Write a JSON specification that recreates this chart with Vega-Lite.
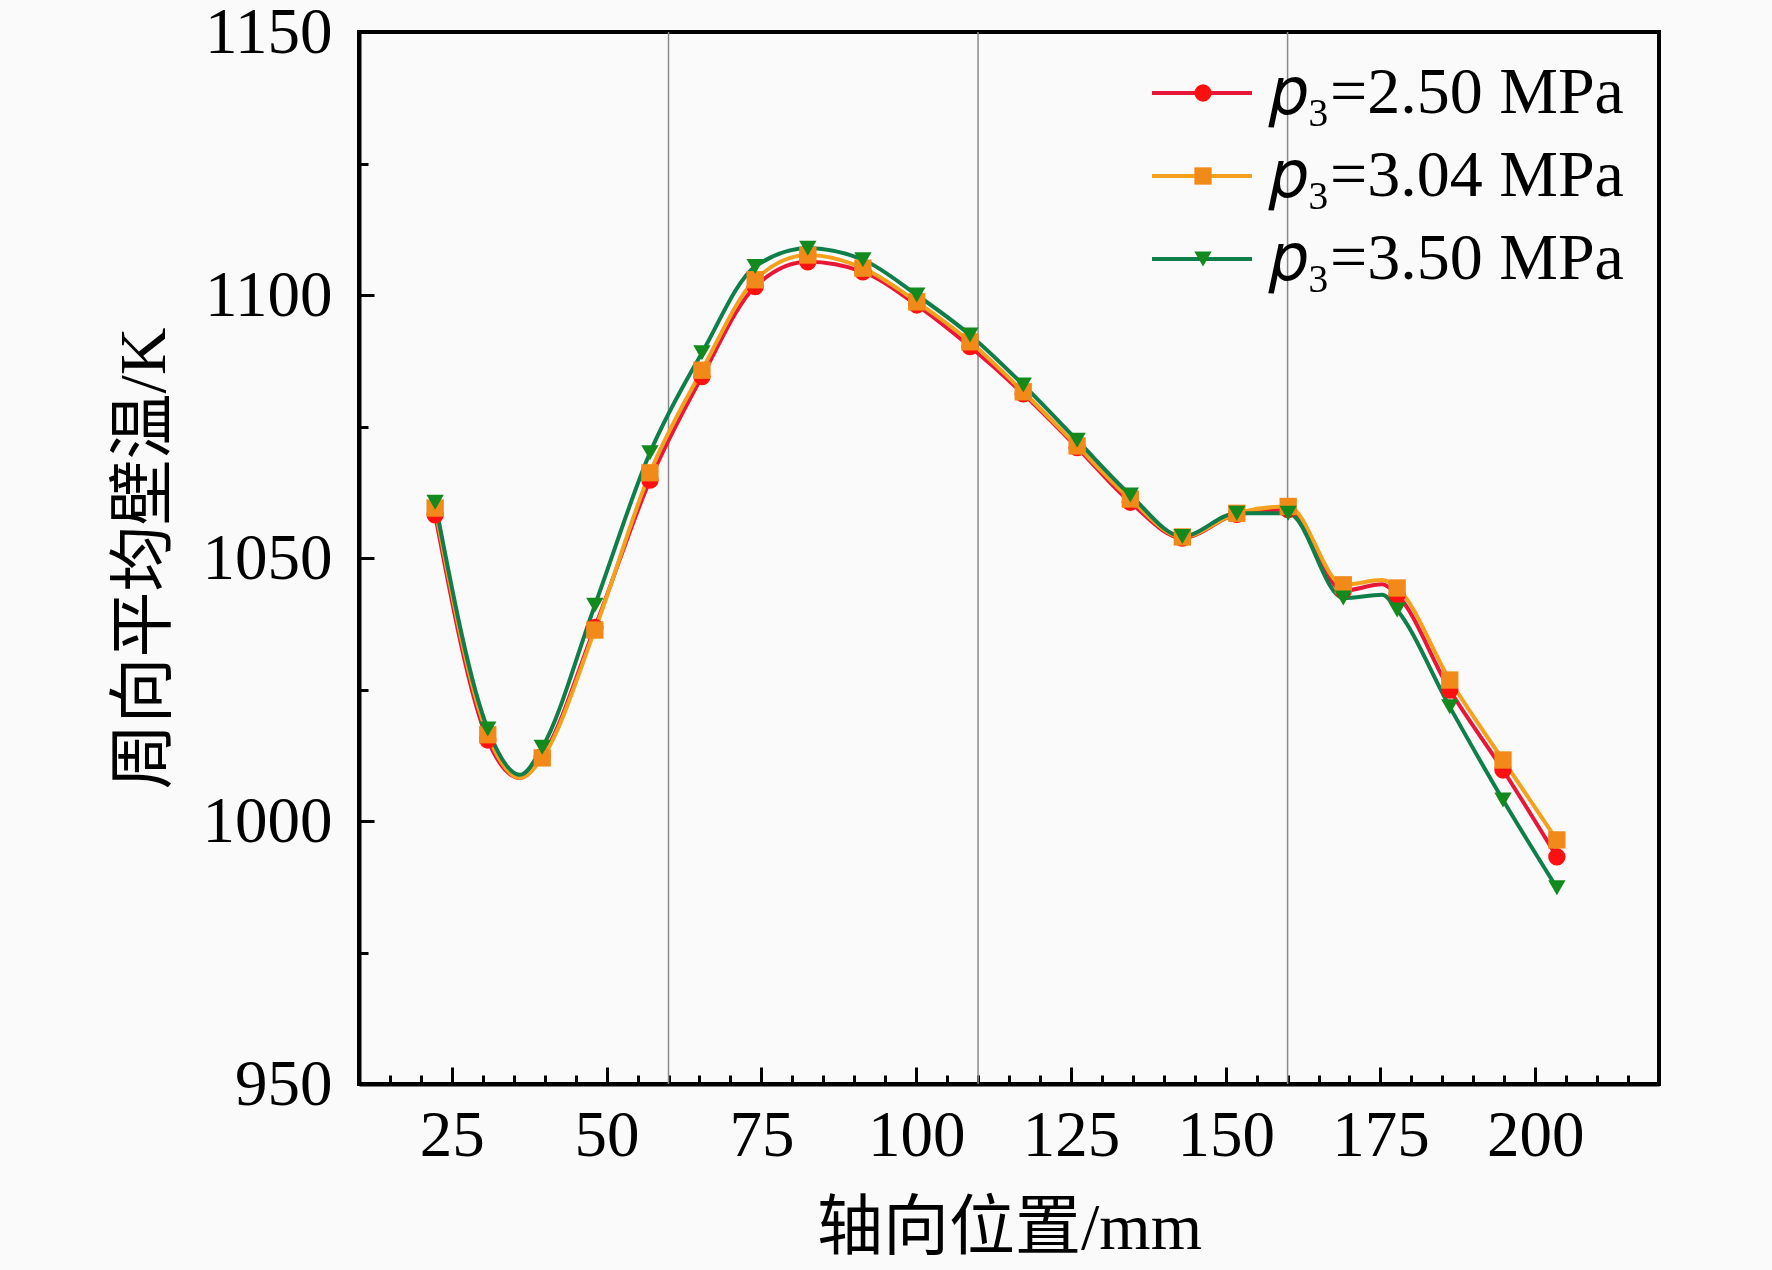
{
  "$schema": "https://vega.github.io/schema/vega-lite/v6.json",
  "width": 1300,
  "height": 1052,
  "autosize": {"type": "none"},
  "padding": {"left": 359, "top": 32, "right": 113, "bottom": 186},
  "background": "#fafafa",
  "config": {
    "font": "Liberation Serif",
    "view": {"stroke": "black", "strokeWidth": 4}
  },
  "datasets": {
    "grid": [{"x": 60}, {"x": 110}, {"x": 160}],
    "markers": [
      {"x": 22.3, "T": 1058.2, "p": "𝑝₃=2.50 MPa"},
      {"x": 30.8, "T": 1015.4, "p": "𝑝₃=2.50 MPa"},
      {"x": 39.6, "T": 1012.3, "p": "𝑝₃=2.50 MPa"},
      {"x": 48.1, "T": 1036.8, "p": "𝑝₃=2.50 MPa"},
      {"x": 57.0, "T": 1064.8, "p": "𝑝₃=2.50 MPa"},
      {"x": 65.4, "T": 1084.5, "p": "𝑝₃=2.50 MPa"},
      {"x": 74.0, "T": 1101.6, "p": "𝑝₃=2.50 MPa"},
      {"x": 82.5, "T": 1106.3, "p": "𝑝₃=2.50 MPa"},
      {"x": 91.4, "T": 1104.4, "p": "𝑝₃=2.50 MPa"},
      {"x": 100.1, "T": 1098.1, "p": "𝑝₃=2.50 MPa"},
      {"x": 108.7, "T": 1090.2, "p": "𝑝₃=2.50 MPa"},
      {"x": 117.3, "T": 1081.2, "p": "𝑝₃=2.50 MPa"},
      {"x": 126.0, "T": 1071.0, "p": "𝑝₃=2.50 MPa"},
      {"x": 134.6, "T": 1060.6, "p": "𝑝₃=2.50 MPa"},
      {"x": 143.0, "T": 1053.8, "p": "𝑝₃=2.50 MPa"},
      {"x": 151.8, "T": 1058.3, "p": "𝑝₃=2.50 MPa"},
      {"x": 160.1, "T": 1059.2, "p": "𝑝₃=2.50 MPa"},
      {"x": 169.0, "T": 1043.8, "p": "𝑝₃=2.50 MPa"},
      {"x": 177.7, "T": 1043.0, "p": "𝑝₃=2.50 MPa"},
      {"x": 186.2, "T": 1024.9, "p": "𝑝₃=2.50 MPa"},
      {"x": 194.8, "T": 1009.7, "p": "𝑝₃=2.50 MPa"},
      {"x": 203.5, "T": 993.2, "p": "𝑝₃=2.50 MPa"},
      {"x": 22.3, "T": 1059.5, "p": "𝑝₃=3.04 MPa"},
      {"x": 30.8, "T": 1016.4, "p": "𝑝₃=3.04 MPa"},
      {"x": 39.6, "T": 1012.0, "p": "𝑝₃=3.04 MPa"},
      {"x": 48.1, "T": 1036.3, "p": "𝑝₃=3.04 MPa"},
      {"x": 57.0, "T": 1066.2, "p": "𝑝₃=3.04 MPa"},
      {"x": 65.4, "T": 1085.7, "p": "𝑝₃=3.04 MPa"},
      {"x": 74.0, "T": 1102.9, "p": "𝑝₃=3.04 MPa"},
      {"x": 82.5, "T": 1107.6, "p": "𝑝₃=3.04 MPa"},
      {"x": 91.4, "T": 1105.1, "p": "𝑝₃=3.04 MPa"},
      {"x": 100.1, "T": 1098.7, "p": "𝑝₃=3.04 MPa"},
      {"x": 108.7, "T": 1091.1, "p": "𝑝₃=3.04 MPa"},
      {"x": 117.3, "T": 1081.6, "p": "𝑝₃=3.04 MPa"},
      {"x": 126.0, "T": 1071.3, "p": "𝑝₃=3.04 MPa"},
      {"x": 134.6, "T": 1061.2, "p": "𝑝₃=3.04 MPa"},
      {"x": 143.0, "T": 1054.0, "p": "𝑝₃=3.04 MPa"},
      {"x": 151.8, "T": 1058.5, "p": "𝑝₃=3.04 MPa"},
      {"x": 160.1, "T": 1059.8, "p": "𝑝₃=3.04 MPa"},
      {"x": 169.0, "T": 1044.9, "p": "𝑝₃=3.04 MPa"},
      {"x": 177.7, "T": 1044.3, "p": "𝑝₃=3.04 MPa"},
      {"x": 186.2, "T": 1026.8, "p": "𝑝₃=3.04 MPa"},
      {"x": 194.8, "T": 1011.6, "p": "𝑝₃=3.04 MPa"},
      {"x": 203.5, "T": 996.4, "p": "𝑝₃=3.04 MPa"},
      {"x": 22.3, "T": 1060.6, "p": "𝑝₃=3.50 MPa"},
      {"x": 30.8, "T": 1017.5, "p": "𝑝₃=3.50 MPa"},
      {"x": 39.6, "T": 1014.0, "p": "𝑝₃=3.50 MPa"},
      {"x": 48.1, "T": 1041.0, "p": "𝑝₃=3.50 MPa"},
      {"x": 57.0, "T": 1070.0, "p": "𝑝₃=3.50 MPa"},
      {"x": 65.4, "T": 1089.0, "p": "𝑝₃=3.50 MPa"},
      {"x": 74.0, "T": 1105.4, "p": "𝑝₃=3.50 MPa"},
      {"x": 82.5, "T": 1108.9, "p": "𝑝₃=3.50 MPa"},
      {"x": 91.4, "T": 1106.7, "p": "𝑝₃=3.50 MPa"},
      {"x": 100.1, "T": 1100.0, "p": "𝑝₃=3.50 MPa"},
      {"x": 108.7, "T": 1092.4, "p": "𝑝₃=3.50 MPa"},
      {"x": 117.3, "T": 1082.9, "p": "𝑝₃=3.50 MPa"},
      {"x": 126.0, "T": 1072.4, "p": "𝑝₃=3.50 MPa"},
      {"x": 134.6, "T": 1062.0, "p": "𝑝₃=3.50 MPa"},
      {"x": 143.0, "T": 1054.1, "p": "𝑝₃=3.50 MPa"},
      {"x": 151.8, "T": 1058.5, "p": "𝑝₃=3.50 MPa"},
      {"x": 160.1, "T": 1058.5, "p": "𝑝₃=3.50 MPa"},
      {"x": 169.0, "T": 1042.4, "p": "𝑝₃=3.50 MPa"},
      {"x": 177.7, "T": 1040.1, "p": "𝑝₃=3.50 MPa"},
      {"x": 186.2, "T": 1021.7, "p": "𝑝₃=3.50 MPa"},
      {"x": 194.8, "T": 1004.0, "p": "𝑝₃=3.50 MPa"},
      {"x": 203.5, "T": 987.3, "p": "𝑝₃=3.50 MPa"}
    ],
    "curve": [
      {"x": 22.3, "T": 1058.2, "p": "𝑝₃=2.50 MPa"},
      {"x": 30.8, "T": 1015.4, "p": "𝑝₃=2.50 MPa"},
      {"x": 36.0, "T": 1008.2, "p": "𝑝₃=2.50 MPa"},
      {"x": 39.6, "T": 1012.3, "p": "𝑝₃=2.50 MPa"},
      {"x": 48.1, "T": 1036.8, "p": "𝑝₃=2.50 MPa"},
      {"x": 57.0, "T": 1064.8, "p": "𝑝₃=2.50 MPa"},
      {"x": 65.4, "T": 1084.5, "p": "𝑝₃=2.50 MPa"},
      {"x": 74.0, "T": 1101.6, "p": "𝑝₃=2.50 MPa"},
      {"x": 82.5, "T": 1106.3, "p": "𝑝₃=2.50 MPa"},
      {"x": 91.4, "T": 1104.4, "p": "𝑝₃=2.50 MPa"},
      {"x": 100.1, "T": 1098.1, "p": "𝑝₃=2.50 MPa"},
      {"x": 108.7, "T": 1090.2, "p": "𝑝₃=2.50 MPa"},
      {"x": 117.3, "T": 1081.2, "p": "𝑝₃=2.50 MPa"},
      {"x": 126.0, "T": 1071.0, "p": "𝑝₃=2.50 MPa"},
      {"x": 134.6, "T": 1060.6, "p": "𝑝₃=2.50 MPa"},
      {"x": 143.0, "T": 1053.8, "p": "𝑝₃=2.50 MPa"},
      {"x": 151.8, "T": 1058.3, "p": "𝑝₃=2.50 MPa"},
      {"x": 160.1, "T": 1059.2, "p": "𝑝₃=2.50 MPa"},
      {"x": 169.0, "T": 1043.8, "p": "𝑝₃=2.50 MPa"},
      {"x": 175.3, "T": 1045.0, "p": "𝑝₃=2.50 MPa"},
      {"x": 177.7, "T": 1043.0, "p": "𝑝₃=2.50 MPa"},
      {"x": 186.2, "T": 1024.9, "p": "𝑝₃=2.50 MPa"},
      {"x": 194.8, "T": 1009.7, "p": "𝑝₃=2.50 MPa"},
      {"x": 203.5, "T": 993.2, "p": "𝑝₃=2.50 MPa"},
      {"x": 22.3, "T": 1059.5, "p": "𝑝₃=3.04 MPa"},
      {"x": 30.8, "T": 1016.4, "p": "𝑝₃=3.04 MPa"},
      {"x": 36.0, "T": 1008.2, "p": "𝑝₃=3.04 MPa"},
      {"x": 39.6, "T": 1012.0, "p": "𝑝₃=3.04 MPa"},
      {"x": 48.1, "T": 1036.3, "p": "𝑝₃=3.04 MPa"},
      {"x": 57.0, "T": 1066.2, "p": "𝑝₃=3.04 MPa"},
      {"x": 65.4, "T": 1085.7, "p": "𝑝₃=3.04 MPa"},
      {"x": 74.0, "T": 1102.9, "p": "𝑝₃=3.04 MPa"},
      {"x": 82.5, "T": 1107.6, "p": "𝑝₃=3.04 MPa"},
      {"x": 91.4, "T": 1105.1, "p": "𝑝₃=3.04 MPa"},
      {"x": 100.1, "T": 1098.7, "p": "𝑝₃=3.04 MPa"},
      {"x": 108.7, "T": 1091.1, "p": "𝑝₃=3.04 MPa"},
      {"x": 117.3, "T": 1081.6, "p": "𝑝₃=3.04 MPa"},
      {"x": 126.0, "T": 1071.3, "p": "𝑝₃=3.04 MPa"},
      {"x": 134.6, "T": 1061.2, "p": "𝑝₃=3.04 MPa"},
      {"x": 143.0, "T": 1054.0, "p": "𝑝₃=3.04 MPa"},
      {"x": 151.8, "T": 1058.5, "p": "𝑝₃=3.04 MPa"},
      {"x": 160.1, "T": 1059.8, "p": "𝑝₃=3.04 MPa"},
      {"x": 169.0, "T": 1044.9, "p": "𝑝₃=3.04 MPa"},
      {"x": 175.3, "T": 1045.8, "p": "𝑝₃=3.04 MPa"},
      {"x": 177.7, "T": 1044.3, "p": "𝑝₃=3.04 MPa"},
      {"x": 186.2, "T": 1026.8, "p": "𝑝₃=3.04 MPa"},
      {"x": 194.8, "T": 1011.6, "p": "𝑝₃=3.04 MPa"},
      {"x": 203.5, "T": 996.4, "p": "𝑝₃=3.04 MPa"},
      {"x": 22.3, "T": 1060.6, "p": "𝑝₃=3.50 MPa"},
      {"x": 30.8, "T": 1017.5, "p": "𝑝₃=3.50 MPa"},
      {"x": 36.0, "T": 1008.8, "p": "𝑝₃=3.50 MPa"},
      {"x": 39.6, "T": 1014.0, "p": "𝑝₃=3.50 MPa"},
      {"x": 48.1, "T": 1041.0, "p": "𝑝₃=3.50 MPa"},
      {"x": 57.0, "T": 1070.0, "p": "𝑝₃=3.50 MPa"},
      {"x": 65.4, "T": 1089.0, "p": "𝑝₃=3.50 MPa"},
      {"x": 74.0, "T": 1105.4, "p": "𝑝₃=3.50 MPa"},
      {"x": 82.5, "T": 1108.9, "p": "𝑝₃=3.50 MPa"},
      {"x": 91.4, "T": 1106.7, "p": "𝑝₃=3.50 MPa"},
      {"x": 100.1, "T": 1100.0, "p": "𝑝₃=3.50 MPa"},
      {"x": 108.7, "T": 1092.4, "p": "𝑝₃=3.50 MPa"},
      {"x": 117.3, "T": 1082.9, "p": "𝑝₃=3.50 MPa"},
      {"x": 126.0, "T": 1072.4, "p": "𝑝₃=3.50 MPa"},
      {"x": 134.6, "T": 1062.0, "p": "𝑝₃=3.50 MPa"},
      {"x": 143.0, "T": 1054.1, "p": "𝑝₃=3.50 MPa"},
      {"x": 151.8, "T": 1058.5, "p": "𝑝₃=3.50 MPa"},
      {"x": 160.1, "T": 1058.5, "p": "𝑝₃=3.50 MPa"},
      {"x": 169.0, "T": 1042.4, "p": "𝑝₃=3.50 MPa"},
      {"x": 175.3, "T": 1043.0, "p": "𝑝₃=3.50 MPa"},
      {"x": 177.7, "T": 1040.1, "p": "𝑝₃=3.50 MPa"},
      {"x": 186.2, "T": 1021.7, "p": "𝑝₃=3.50 MPa"},
      {"x": 194.8, "T": 1004.0, "p": "𝑝₃=3.50 MPa"},
      {"x": 203.5, "T": 987.3, "p": "𝑝₃=3.50 MPa"}
    ]
  },
  "layer": [
    {
      "data": {"name": "grid"},
      "mark": {"type": "rule", "color": "#8a8a8a", "strokeWidth": 1.5},
      "encoding": {
        "x": {"field": "x", "type": "quantitative", "axis": null,
              "scale": {"domain": [10, 220], "nice": false, "zero": false}}
      }
    },
    {
      "data": {"name": "curve"},
      "mark": {"type": "line", "interpolate": "monotone", "strokeWidth": 4},
      "encoding": {
        "x": {
          "field": "x", "type": "quantitative",
          "scale": {"domain": [10, 220], "nice": false, "zero": false},
          "axis": {
            "orient": "bottom",
            "values": [25, 50, 75, 100, 125, 150, 175, 200],
            "format": "d",
            "title": "轴向位置/mm",
            "titleFont": "Liberation Serif, Noto Sans CJK SC",
            "titleFontSize": 66, "titleFontWeight": "normal", "titleColor": "black",
            "titlePadding": 28,
            "labelFontSize": 65, "labelColor": "black", "labelPadding": 37,
            "labelOverlap": false, "labelFlush": false,
            "tickSize": -17, "tickWidth": 3, "tickColor": "black",
            "domainColor": "black", "domainWidth": 4, "grid": false
          }
        },
        "y": {
          "field": "T", "type": "quantitative",
          "scale": {"domain": [950, 1150], "nice": false, "zero": false},
          "axis": {
            "orient": "left",
            "values": [950, 1000, 1050, 1100, 1150],
            "format": "d",
            "title": "周向平均壁温/K",
            "titleFont": "Liberation Serif, Noto Sans CJK SC",
            "titleFontSize": 66, "titleFontWeight": "normal", "titleColor": "black",
            "titlePadding": 24,
            "labelFontSize": 65, "labelColor": "black", "labelPadding": 42,
            "labelOverlap": false, "labelFlush": false,
            "tickSize": -15, "tickWidth": 3, "tickColor": "black",
            "domainColor": "black", "domainWidth": 4, "grid": false
          }
        },
        "color": {
          "field": "p", "type": "nominal",
          "scale": {
            "domain": ["𝑝₃=2.50 MPa", "𝑝₃=3.04 MPa", "𝑝₃=3.50 MPa"],
            "range": ["#e8173a", "#f4a11e", "#0e7f4a"]
          },
          "legend": {
            "orient": "none", "legendX": 791, "legendY": 28,
            "title": null, "padding": 0,
            "symbolType": "stroke", "symbolSize": 10000, "symbolStrokeWidth": 4,
            "labelFontSize": 66, "labelColor": "black", "labelOffset": 16,
            "labelLimit": 0, "rowPadding": 17, "clipHeight": 66
          }
        }
      }
    },
    {
      "data": {"name": "markers"},
      "mark": {"type": "point", "filled": true, "opacity": 1, "size": 300},
      "encoding": {
        "x": {
          "field": "x", "type": "quantitative",
          "scale": {"domain": [10, 220], "nice": false, "zero": false},
          "axis": {
            "orient": "bottom",
            "values": [15, 20, 30, 35, 40, 45, 55, 60, 65, 70, 80, 85, 90, 95, 105, 110, 115, 120, 130, 135, 140, 145, 155, 160, 165, 170, 180, 185, 190, 195, 205, 210, 215],
            "title": null, "labels": false, "domain": false, "grid": false,
            "tickSize": -9, "tickWidth": 3, "tickColor": "black"
          }
        },
        "y": {
          "field": "T", "type": "quantitative",
          "scale": {"domain": [950, 1150], "nice": false, "zero": false},
          "axis": {
            "orient": "left",
            "values": [975, 1025, 1075, 1125],
            "title": null, "labels": false, "domain": false, "grid": false,
            "tickSize": -9, "tickWidth": 3, "tickColor": "black"
          }
        },
        "color": {
          "field": "p", "type": "nominal",
          "scale": {
            "domain": ["𝑝₃=2.50 MPa", "𝑝₃=3.04 MPa", "𝑝₃=3.50 MPa"],
            "range": ["#ff1010", "#f28a1a", "#128a1e"]
          },
          "legend": {
            "orient": "none", "legendX": 811, "legendY": 28,
            "title": null, "padding": 0, "symbolSize": 300,
            "labelExpr": "''", "labelFontSize": 66, "labelOffset": 16,
            "labelLimit": 0, "rowPadding": 17, "clipHeight": 66
          }
        },
        "shape": {
          "field": "p", "type": "nominal",
          "scale": {
            "domain": ["𝑝₃=2.50 MPa", "𝑝₃=3.04 MPa", "𝑝₃=3.50 MPa"],
            "range": ["circle", "square", "triangle-down"]
          },
          "legend": {
            "orient": "none", "legendX": 811, "legendY": 28,
            "title": null, "padding": 0, "symbolSize": 300,
            "labelExpr": "''", "labelFontSize": 66, "labelOffset": 16,
            "labelLimit": 0, "rowPadding": 17, "clipHeight": 66
          }
        }
      }
    }
  ],
  "resolve": {
    "axis": {"x": "independent", "y": "independent"},
    "scale": {"color": "independent", "shape": "independent"}
  }
}
